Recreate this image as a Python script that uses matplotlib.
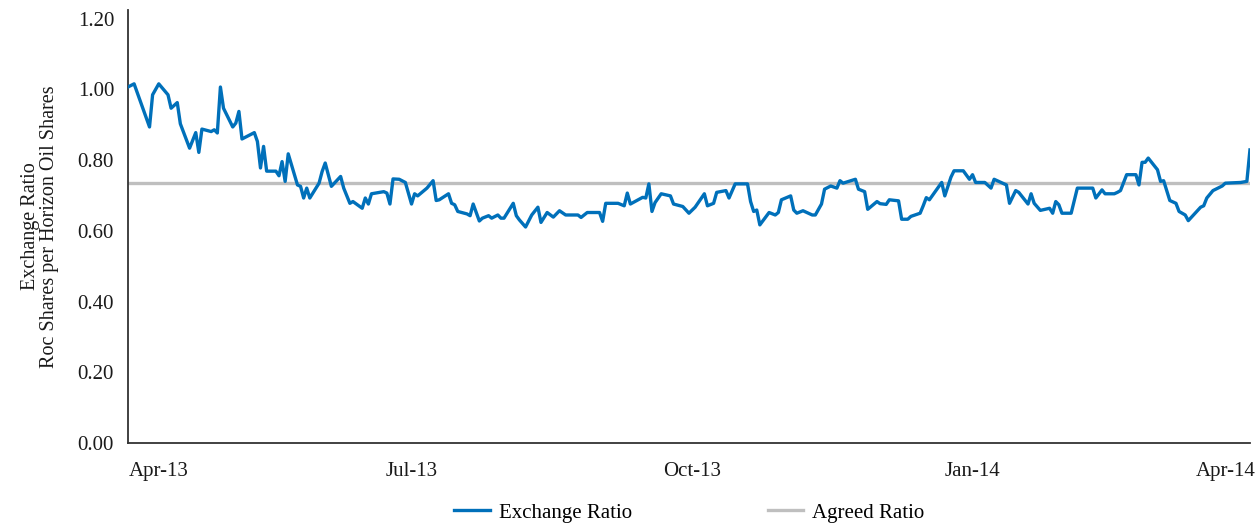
import numpy as np
import pandas as pd
from matplotlib import pyplot as plt

# calendar day offset from start of series (Apr-13 .. Apr-14)
days = [0, 2, 7, 8, 10, 13, 14, 16, 17, 20, 22, 23, 24, 27, 28, 29, 30, 31, 34, 35,
        36, 37, 41, 42, 43, 44, 45, 48, 49, 50, 51, 52, 55, 56, 57, 58, 59, 62, 63, 64,
        66, 69, 70, 72, 73, 76, 77, 78, 79, 83, 84, 85, 86, 88, 90, 92, 93, 94, 97, 99,
        100, 101, 104, 105, 106, 107, 110, 111, 112, 114, 115, 117, 118, 120, 121, 122, 125, 126, 127, 129,
        131, 133, 134, 136, 138, 140, 142, 146, 147, 149, 153, 154, 155, 159, 161, 162, 163, 167, 168, 169,
        170, 171, 173, 176, 177, 180, 182, 184, 187, 188, 190, 191, 194, 195, 197, 201, 202, 203, 204, 205,
        208, 210, 211, 212, 215, 216, 217, 219, 222, 223, 225, 226, 228, 230, 231, 232, 236, 237, 239, 240,
        243, 244, 246, 247, 250, 251, 253, 254, 257, 258, 259, 260, 264, 265, 266, 267, 268, 271, 273, 274,
        275, 278, 280, 281, 285, 286, 288, 289, 292, 293, 294, 296, 299, 300, 301, 302, 303, 306, 308, 313,
        314, 316, 317, 320, 321, 322, 324, 327, 328, 329, 330, 331, 334, 335, 336, 338, 340, 341, 343, 344,
        348, 349, 350, 352, 355, 356, 361, 363, 364]

exchange_ratio = [1.007, 1.016, 0.894, 0.985, 1.016, 0.985, 0.947, 0.963, 0.903, 0.834,
                  0.878, 0.822, 0.888, 0.881, 0.886, 0.877, 1.007, 0.947, 0.894, 0.905,
                  0.938, 0.860, 0.878, 0.853, 0.778, 0.839, 0.769, 0.769, 0.756, 0.796,
                  0.740, 0.818, 0.730, 0.726, 0.693, 0.721, 0.693, 0.735, 0.768, 0.792,
                  0.726, 0.754, 0.721, 0.678, 0.683, 0.664, 0.693, 0.676, 0.705, 0.711,
                  0.707, 0.676, 0.747, 0.746, 0.737, 0.676, 0.705, 0.699, 0.721, 0.742,
                  0.686, 0.688, 0.705, 0.678, 0.674, 0.655, 0.648, 0.643, 0.676, 0.628,
                  0.636, 0.643, 0.636, 0.645, 0.636, 0.636, 0.678, 0.643, 0.631, 0.611,
                  0.645, 0.667, 0.624, 0.652, 0.639, 0.657, 0.645, 0.645, 0.638, 0.652,
                  0.652, 0.627, 0.678, 0.678, 0.671, 0.707, 0.676, 0.695, 0.693, 0.733,
                  0.655, 0.680, 0.705, 0.699, 0.676, 0.669, 0.650, 0.667, 0.705, 0.671,
                  0.678, 0.709, 0.714, 0.693, 0.733, 0.733, 0.683, 0.655, 0.659, 0.617,
                  0.652, 0.645, 0.652, 0.688, 0.699, 0.659, 0.650, 0.657, 0.645, 0.645,
                  0.676, 0.718, 0.727, 0.721, 0.742, 0.735, 0.746, 0.718, 0.711, 0.661,
                  0.683, 0.677, 0.675, 0.688, 0.685, 0.633, 0.633, 0.641, 0.650, 0.671,
                  0.694, 0.688, 0.737, 0.699, 0.726, 0.752, 0.770, 0.770, 0.746, 0.759,
                  0.737, 0.737, 0.721, 0.746, 0.730, 0.678, 0.714, 0.709, 0.676, 0.705,
                  0.678, 0.658, 0.664, 0.650, 0.683, 0.674, 0.650, 0.650, 0.721, 0.721,
                  0.693, 0.716, 0.705, 0.705, 0.709, 0.714, 0.759, 0.759, 0.730, 0.794,
                  0.794, 0.806, 0.773, 0.740, 0.742, 0.686, 0.678, 0.655, 0.645, 0.629,
                  0.667, 0.671, 0.693, 0.714, 0.727, 0.735, 0.737, 0.740, 0.829]

agreed_ratio = 0.735

tick_days = [10, 92, 183, 274, 356]
tick_labels = ["Apr-13", "Jul-13", "Oct-13", "Jan-14", "Apr-14"]

plt.rcParams["font.family"] = ["Liberation Serif", "DejaVu Serif"]

fig = plt.figure(figsize = (12.58, 5.24), dpi = 100)
ax = fig.add_axes([0.1017, 0.1546, 0.8919, 0.8264])

ax.plot(days, exchange_ratio, color = "#0070BA", lw = 2.4, label = "Exchange Ratio", zorder = 3)
ax.axhline(agreed_ratio, color = "#BFBFBF", lw = 2.4, label = "Agreed Ratio", zorder = 2)

ax.set_xlim(days[0], days[-1])
ax.set_ylim(0, 1.225)
ax.set_yticks(np.arange(0, 1.21, 0.2))
ax.set_yticklabels(["{:.2f}".format(v) for v in np.arange(0, 1.21, 0.2)])
ax.set_xticks(tick_days)
ax.set_xticklabels(tick_labels)
ax.tick_params(length = 0, labelsize = 15, colors = "#1a1a1a")
ax.tick_params(axis = "y", pad = 10)
ax.tick_params(axis = "x", pad = 14)

for s in ["top", "right"]:
    ax.spines[s].set_visible(False)
for s in ["left", "bottom"]:
    ax.spines[s].set_color("#333333")
    ax.spines[s].set_linewidth(1.3)

ax.set_ylabel("Exchange Ratio\nRoc Shares per Horizon Oil Shares", fontsize = 14.5,
              color = "#1a1a1a", labelpad = 13, linespacing = 1.05)

fig.legend(loc = "center", bbox_to_anchor = (0.548, 0.021), ncol = 2, frameon = False,
           fontsize = 15, handlelength = 1.7, handletextpad = 0.45, columnspacing = 6.5)

fig.savefig("out.png", dpi = 100)
